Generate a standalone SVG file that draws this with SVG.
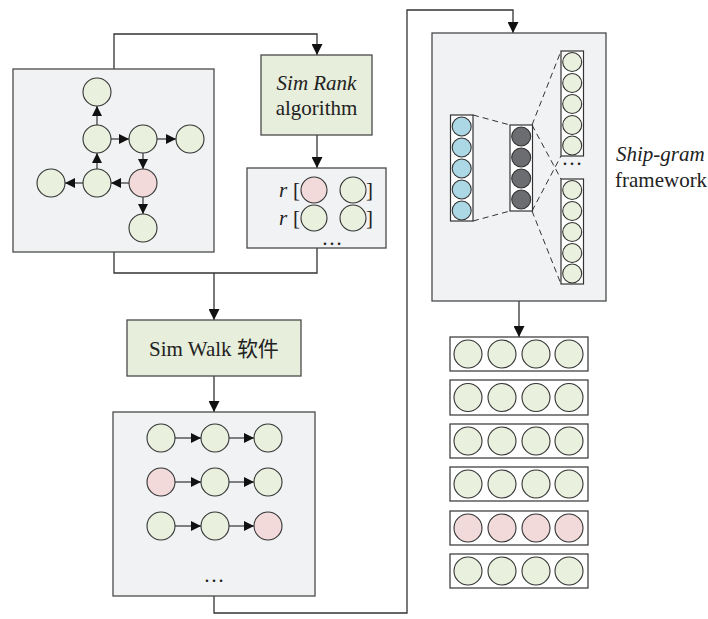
<svg xmlns="http://www.w3.org/2000/svg" width="708" height="619" viewBox="0 0 708 619">
<style>
.box{fill:#f1f2f4;stroke:#4a4a4a;stroke-width:1.3}
.gbox{fill:#e7eedb;stroke:#4a4a4a;stroke-width:1.3}
.g{fill:#e9f0de;stroke:#333;stroke-width:1.1}
.p{fill:#f2dada;stroke:#333;stroke-width:1.1}
.b{fill:#acd8e6;stroke:#333;stroke-width:1.1}
.d{fill:#6c6d70;stroke:#333;stroke-width:1.1}
.col{fill:#fff;stroke:#333;stroke-width:1.2}
.ln{fill:none;stroke:#333;stroke-width:1.3}
.ar{fill:none;stroke:#333;stroke-width:1.3;marker-end:url(#ah)}
.sa{fill:none;stroke:#333;stroke-width:1.2;marker-end:url(#sh)}
.dash{fill:none;stroke:#333;stroke-width:1;stroke-dasharray:6 4}
.t{font-family:'Liberation Serif',serif;font-size:21px;fill:#222}
.cjk{font-family:'Noto Sans CJK SC',sans-serif}
.it{font-style:italic}
</style>
<defs>
<marker id="ah" markerUnits="userSpaceOnUse" markerWidth="11" markerHeight="11" refX="10" refY="5" orient="auto" viewBox="0 0 10 10"><path d="M0,0 L10,5 L0,10 z" fill="#111"/></marker>
<marker id="sh" markerUnits="userSpaceOnUse" markerWidth="10" markerHeight="10" refX="10" refY="5" orient="auto" viewBox="0 0 10 10"><path d="M0,0 L10,5 L0,10 z" fill="#111"/></marker>
</defs>

<g id="connectors">
<path class="ar" d="M114,69 V34 H317 V55"/>
<path class="ar" d="M317,135 V168"/>
<path class="ln" d="M114,252 V273 H317 V248"/>
<path class="ar" d="M214,273 V320"/>
<path class="ar" d="M214,376 V412"/>
<path class="ar" d="M214,596 V613 H407 V10 H513 V33"/>
<path class="ar" d="M519,301 V337"/>
</g>

<g id="graph">
<rect class="box" x="13" y="69" width="201" height="183"/>
<path class="sa" d="M97,125 V106"/>
<path class="sa" d="M97,169 V153"/>
<path class="sa" d="M111,139 H129"/>
<path class="sa" d="M157,139 H176"/>
<path class="sa" d="M143,153 V169"/>
<path class="sa" d="M129,183 H111"/>
<path class="sa" d="M83,183 H65"/>
<path class="sa" d="M143,197 V214"/>
<circle class="g" cx="97" cy="92" r="14"/>
<circle class="g" cx="97" cy="139" r="14"/>
<circle class="g" cx="143" cy="139" r="14"/>
<circle class="g" cx="190" cy="139" r="14"/>
<circle class="g" cx="51" cy="183" r="14"/>
<circle class="g" cx="97" cy="183" r="14"/>
<circle class="p" cx="143" cy="183" r="14"/>
<circle class="g" cx="143" cy="228" r="14"/>
</g>

<g id="simrank">
<rect class="gbox" x="261" y="55" width="111" height="80"/>
<text class="t it" x="316.5" y="90" text-anchor="middle">Sim Rank</text>
<text class="t" x="316.5" y="115" text-anchor="middle">algorithm</text>
</g>

<g id="rbox">
<rect class="box" x="247" y="168" width="139" height="80"/>
<text class="t it" x="279" y="197">r</text>
<text class="t" x="293" y="197">[</text>
<circle class="p" cx="314" cy="190" r="13"/>
<circle class="g" cx="353" cy="190" r="13"/>
<text class="t" x="366" y="197">]</text>
<text class="t it" x="279" y="225">r</text>
<text class="t" x="293" y="225">[</text>
<circle class="g" cx="314" cy="218" r="13"/>
<circle class="g" cx="353" cy="218" r="13"/>
<text class="t" x="366" y="225">]</text>
<text class="t" x="333" y="245" text-anchor="middle" letter-spacing="2">…</text>
</g>

<g id="simwalk">
<rect class="gbox" x="127" y="320" width="174" height="56"/>
<text class="t" x="214" y="356" text-anchor="middle">Sim Walk <tspan class="cjk">软件</tspan></text>
</g>

<g id="walks">
<rect class="box" x="113" y="412" width="202" height="184"/>
<path class="sa" d="M175,438 H201"/>
<path class="sa" d="M229,438 H254"/>
<path class="sa" d="M175,482 H201"/>
<path class="sa" d="M229,482 H254"/>
<path class="sa" d="M175,526 H201"/>
<path class="sa" d="M229,526 H254"/>
<circle class="g" cx="161" cy="438" r="14"/>
<circle class="g" cx="215" cy="438" r="14"/>
<circle class="g" cx="268" cy="438" r="14"/>
<circle class="p" cx="161" cy="482" r="14"/>
<circle class="g" cx="215" cy="482" r="14"/>
<circle class="g" cx="268" cy="482" r="14"/>
<circle class="g" cx="161" cy="526" r="14"/>
<circle class="g" cx="215" cy="526" r="14"/>
<circle class="p" cx="268" cy="526" r="14"/>
<text class="t" x="214" y="582" text-anchor="middle">…</text>
</g>

<g id="skipgram">
<rect class="box" x="432" y="33" width="174" height="268"/>
<path class="dash" d="M473,115 L510,125 M473,221 L510,211 M532,125 L561,51 M532,125 L561,179 M532,211 L561,156 M532,211 L561,284"/>
<rect class="col" x="450.5" y="115" width="22.5" height="106"/>
<circle class="b" cx="461.7" cy="126.5" r="9.5"/>
<circle class="b" cx="461.7" cy="147.5" r="9.5"/>
<circle class="b" cx="461.7" cy="168.5" r="9.5"/>
<circle class="b" cx="461.7" cy="189.5" r="9.5"/>
<circle class="b" cx="461.7" cy="210.5" r="9.5"/>
<rect class="col" x="510" y="125" width="22.5" height="86"/>
<circle class="d" cx="521.2" cy="136.5" r="9.5"/>
<circle class="d" cx="521.2" cy="157.5" r="9.5"/>
<circle class="d" cx="521.2" cy="178.5" r="9.5"/>
<circle class="d" cx="521.2" cy="199.5" r="9.5"/>
<rect class="col" x="561" y="51" width="22.5" height="105"/>
<circle class="g" cx="572.2" cy="62" r="9.5"/>
<circle class="g" cx="572.2" cy="83" r="9.5"/>
<circle class="g" cx="572.2" cy="104" r="9.5"/>
<circle class="g" cx="572.2" cy="125" r="9.5"/>
<circle class="g" cx="572.2" cy="145.5" r="9.5"/>
<text class="t" x="572" y="165" text-anchor="middle">…</text>
<rect class="col" x="561" y="179" width="22.5" height="105"/>
<circle class="g" cx="572.2" cy="190" r="9.5"/>
<circle class="g" cx="572.2" cy="211" r="9.5"/>
<circle class="g" cx="572.2" cy="232" r="9.5"/>
<circle class="g" cx="572.2" cy="253" r="9.5"/>
<circle class="g" cx="572.2" cy="273.5" r="9.5"/>
</g>

<g id="skipgram-label">
<text class="t it" x="616" y="161">Ship-gram</text>
<text class="t" x="615" y="187">framework</text>
</g>

<g id="vectors">
<rect class="col" x="450" y="337" width="138" height="34"/>
<circle class="g" cx="468" cy="354" r="14"/><circle class="g" cx="502" cy="354" r="14"/><circle class="g" cx="536" cy="354" r="14"/><circle class="g" cx="569" cy="354" r="14"/>
<rect class="col" x="450" y="380" width="138" height="35"/>
<circle class="g" cx="468" cy="397.5" r="14"/><circle class="g" cx="502" cy="397.5" r="14"/><circle class="g" cx="536" cy="397.5" r="14"/><circle class="g" cx="569" cy="397.5" r="14"/>
<rect class="col" x="450" y="424" width="138" height="34"/>
<circle class="g" cx="468" cy="441" r="14"/><circle class="g" cx="502" cy="441" r="14"/><circle class="g" cx="536" cy="441" r="14"/><circle class="g" cx="569" cy="441" r="14"/>
<rect class="col" x="450" y="467" width="138" height="34"/>
<circle class="g" cx="468" cy="484" r="14"/><circle class="g" cx="502" cy="484" r="14"/><circle class="g" cx="536" cy="484" r="14"/><circle class="g" cx="569" cy="484" r="14"/>
<rect class="col" x="450" y="511" width="138" height="34"/>
<circle class="p" cx="468" cy="528" r="14"/><circle class="p" cx="502" cy="528" r="14"/><circle class="p" cx="536" cy="528" r="14"/><circle class="p" cx="569" cy="528" r="14"/>
<rect class="col" x="450" y="554" width="138" height="34"/>
<circle class="g" cx="468" cy="571" r="14"/><circle class="g" cx="502" cy="571" r="14"/><circle class="g" cx="536" cy="571" r="14"/><circle class="g" cx="569" cy="571" r="14"/>
</g>
</svg>
